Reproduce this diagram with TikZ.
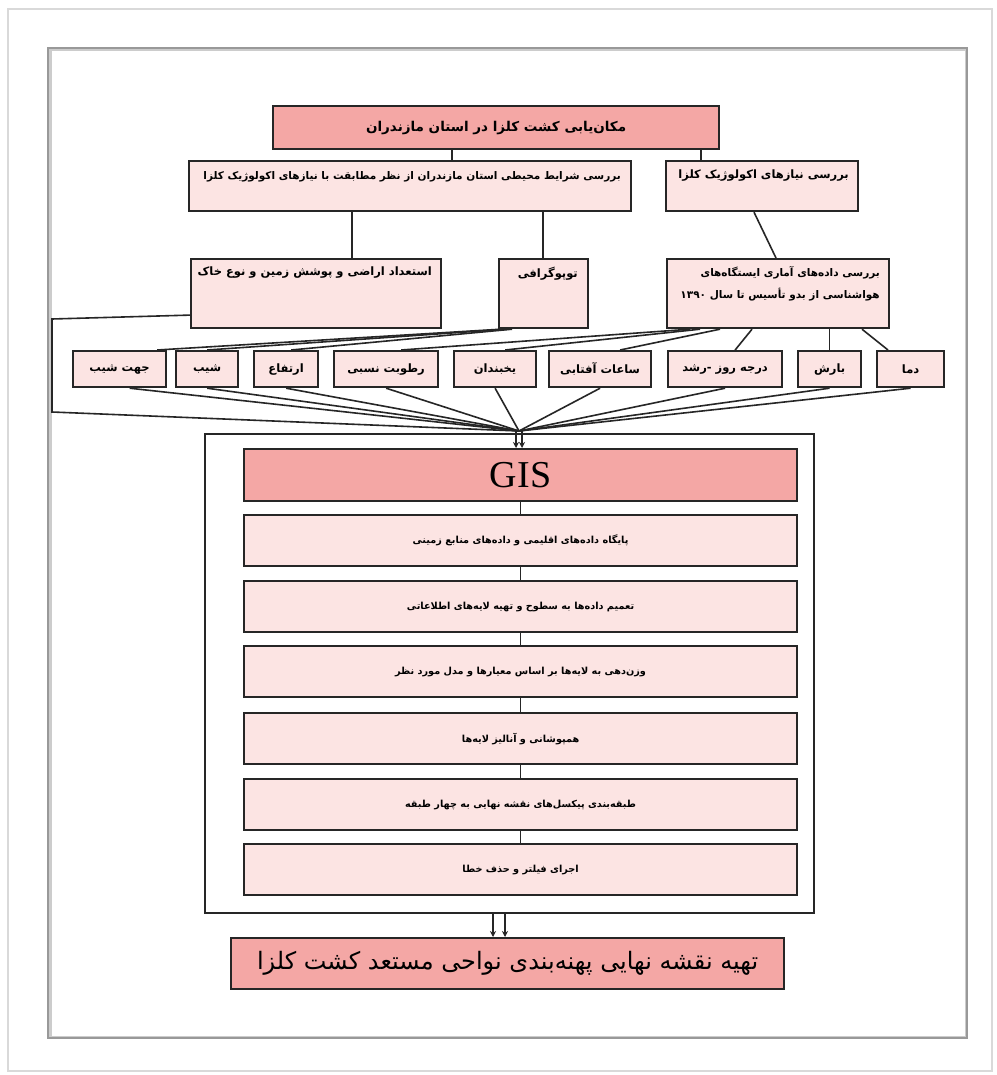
\documentclass[tikz,border=0pt]{standalone}
\usepackage{fontspec}
\usetikzlibrary{arrows.meta,calc}
\TeXXeTstate=1
\setmainfont{Liberation Serif}
\newfontfamily\fa[Script=Arabic]{DejaVu Sans}
\definecolor{darkpink}{RGB}{244,167,165}
\definecolor{lightpink}{RGB}{252,228,227}
\begin{document}
\begin{tikzpicture}[x=1pt,y=-1pt,
  lbox/.style={draw=black!85, line width=2.2pt, fill=lightpink, inner sep=0pt, anchor=north west},
  dbox/.style={lbox, fill=darkpink},
  conn/.style={line width=1.6pt, draw=black!85},
  ftitle/.style={font=\fa\bfseries\fontsize{13.5}{16}\selectfont},
  fmid/.style={font=\fa\bfseries\fontsize{10.5}{12}\selectfont},
  fsmall/.style={font=\fa\bfseries\fontsize{11.5}{13}\selectfont},
  fstep/.style={font=\fa\bfseries\fontsize{9.7}{12}\selectfont},
  ffinal/.style={font=\fa\fontsize{24}{28}\selectfont},
  lbl/.style={inner sep=0pt, anchor=north east, align=right},
  arr/.style={conn, line width=1.3pt, -{Stealth[length=6pt,width=6pt]}},
]
\path[use as bounding box, fill=white] (0,0) rectangle (996,1075);
\draw[gray!30, line width=1.5pt] (8,9) rectangle (992,1071);
\draw[gray!40, line width=3pt] (50,50) rectangle (966,1037);
\draw[gray!80, line width=1.2pt] (48,48) rectangle (967,1038);

% top
\node[dbox, minimum width=446pt, minimum height=43pt, ftitle] (title) at (272,105) {\beginR مکان‌یابی کشت کلزا در استان مازندران\endR};
\node[lbox, minimum width=442pt, minimum height=50pt] (envbox) at (188,160) {};
\node[lbl, fmid] (envt) at (621,171) {\beginR بررسی شرایط محیطی استان مازندران از نظر مطابقت با نیازهای اکولوژیک کلزا\endR};
\node[lbox, minimum width=192pt, minimum height=50pt] (ecobox) at (665,160) {};
\node[lbl, fsmall] (ecot) at (849,170) {\beginR بررسی نیازهای اکولوژیک کلزا\endR};

% third row
\node[lbox, minimum width=250pt, minimum height=69pt] (landbox) at (190,258) {};
\node[lbl, fsmall] (landt) at (432,267) {\beginR استعداد اراضی و پوشش زمین و نوع خاک\endR};
\node[lbox, minimum width=89pt, minimum height=69pt] (topo) at (498,258) {};
\node[lbl, fsmall] (topot) at (578,267) {\beginR توپوگرافی\endR};
\node[lbox, minimum width=222pt, minimum height=69pt] (stat) at (666,258) {};
\node[lbl, fmid] (statt) at (880,266) {\beginR بررسی داده‌های آماری ایستگاه‌های\endR\\[8pt]\beginR هواشناسی از بدو تأسیس تا سال ۱۳۹۰\endR};

% small boxes
\node[lbox, minimum width=93pt, minimum height=36pt, fsmall] (jahat) at (72,350) {\beginR جهت شیب\endR};
\node[lbox, minimum width=62pt, minimum height=36pt, fsmall] (shib) at (175,350) {\beginR شیب\endR};
\node[lbox, minimum width=64pt, minimum height=36pt, fsmall] (ertefa) at (253,350) {\beginR ارتفاع\endR};
\node[lbox, minimum width=104pt, minimum height=36pt, fsmall] (rotubat) at (333,350) {\beginR رطوبت نسبی\endR};
\node[lbox, minimum width=82pt, minimum height=36pt, fsmall] (yakh) at (453,350) {\beginR یخبندان\endR};
\node[lbox, minimum width=102pt, minimum height=36pt, fsmall] (saat) at (548,350) {\beginR ساعات آفتابی\endR};
\node[lbox, minimum width=114pt, minimum height=36pt, fsmall] (daraje) at (667,350) {\beginR درجه روز -رشد\endR};
\node[lbox, minimum width=63pt, minimum height=36pt, fsmall] (barsh) at (797,350) {\beginR بارش\endR};
\node[lbox, minimum width=67pt, minimum height=36pt, fsmall] (dama) at (876,350) {\beginR دما\endR};

% GIS block
\node[draw=black!85, line width=1.6pt, inner sep=0pt, anchor=north west, minimum width=609pt, minimum height=479pt] (gisframe) at (204,433) {};
\node[dbox, minimum width=553pt, minimum height=52pt, font=\fontsize{38}{40}\selectfont] (gis) at (243,448) {GIS};
\node[lbox, minimum width=553pt, minimum height=51pt, fstep] (s1) at (243,514) {\beginR پایگاه داده‌های اقلیمی و داده‌های منابع زمینی\endR};
\node[lbox, minimum width=553pt, minimum height=51pt, fstep] (s2) at (243,580) {\beginR تعمیم داده‌ها به سطوح و تهیه لایه‌های اطلاعاتی\endR};
\node[lbox, minimum width=553pt, minimum height=51pt, fstep] (s3) at (243,645) {\beginR وزن‌دهی به لایه‌ها بر اساس معیارها و مدل مورد نظر\endR};
\node[lbox, minimum width=553pt, minimum height=51pt, fstep] (s4) at (243,712) {\beginR همپوشانی و آنالیز لایه‌ها\endR};
\node[lbox, minimum width=553pt, minimum height=51pt, fstep] (s5) at (243,778) {\beginR طبقه‌بندی پیکسل‌های نقشه نهایی به چهار طبقه\endR};
\node[lbox, minimum width=553pt, minimum height=51pt, fstep] (s6) at (243,843) {\beginR اجرای فیلتر و حذف خطا\endR};

\node[dbox, minimum width=553pt, minimum height=51pt, ffinal] (final) at (230,937) {\beginR تهیه نقشه نهایی پهنه‌بندی نواحی مستعد کشت کلزا\endR};

% coordinates
\coordinate (c1) at (452,0);
\coordinate (c2) at (701,0);
\coordinate (c3) at (352,0);
\coordinate (c4) at (543,0);
\coordinate (hub) at (519,431);
\coordinate (bl1) at (52,319);
\coordinate (bl2) at (52,412);
\coordinate (ba) at (493,0);
\coordinate (bb) at (505,0);

% connectors top
\draw[conn] (title.south -| c1) -- (envbox.north -| c1);
\draw[conn] (title.south -| c2) -- (ecobox.north -| c2);
\draw[conn] (envbox.south -| c3) -- (landbox.north -| c3);
\draw[conn] (envbox.south -| c4) -- (topo.north -| c4);
\draw[conn] ([xshift=89pt]ecobox.south west) -- ([xshift=110pt]stat.north west);

% upper fan
\draw[conn] ([xshift=196pt]stat.south west) -- ([xshift=12pt]dama.north west);
\draw[conn] (stat.south west -| barsh.north) -- (barsh.north);
\draw[conn] ([xshift=86pt]stat.south west) -- ([xshift=10pt]daraje.north);
\draw[conn] ([xshift=54pt]stat.south west) -- ([xshift=20pt]saat.north);
\draw[conn] ([xshift=34pt]stat.south west) -- ([xshift=10pt]yakh.north);
\draw[conn] ([xshift=24pt]stat.south west) -- ([xshift=15pt]rotubat.north);
\draw[conn] ([xshift=14pt]topo.south west) -- ([xshift=5pt]ertefa.north);
\draw[conn] ([xshift=8pt]topo.south west) -- (shib.north);
\draw[conn] ([xshift=3pt]topo.south west) -- ([xshift=-10pt]jahat.north east);

% bracket
\draw[conn] ([yshift=-21.5pt]landbox.west) -- (bl1) -- (bl2) -- (hub);

% lower fan
\draw[conn] ([xshift=10pt]jahat.south) -- (hub);
\foreach \n in {shib,ertefa,rotubat,yakh,saat,daraje,barsh,dama}{
  \draw[conn] (\n.south) -- (hub);
}

% arrows into GIS
\draw[arr] ([xshift=-3pt]hub) -- ([xshift=-3pt]hub |- gis.north);
\draw[arr] ([xshift=3pt]hub) -- ([xshift=3pt]hub |- gis.north);

% step connectors
\draw[conn] (gis.south) -- (s1.north);
\draw[conn] (s1.south) -- (s2.north);
\draw[conn] (s2.south) -- (s3.north);
\draw[conn] (s3.south) -- (s4.north);
\draw[conn] (s4.south) -- (s5.north);
\draw[conn] (s5.south) -- (s6.north);

% arrows to final
\draw[arr] (gisframe.south -| ba) -- (final.north -| ba);
\draw[arr] (gisframe.south -| bb) -- (final.north -| bb);
\end{tikzpicture}
\end{document}
